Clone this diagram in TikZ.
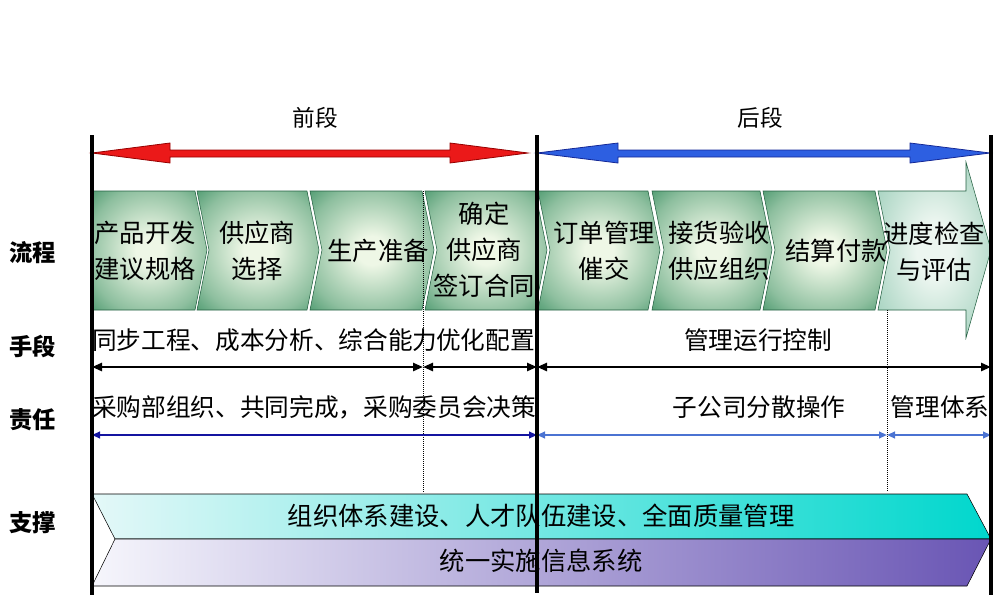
\documentclass[tikz,border=0pt]{standalone}
\usepackage{fontspec}
\setmainfont{Noto Sans CJK SC}
\usetikzlibrary{arrows.meta}

\definecolor{stagegreen}{RGB}{62,145,100}
\definecolor{stagepale}{RGB}{238,247,230}
\definecolor{stageline}{RGB}{35,95,65}
\definecolor{lastgreen}{RGB}{105,180,150}
\definecolor{lastpale}{RGB}{236,246,240}
\definecolor{redfill}{RGB}{235,25,25}
\definecolor{redline}{RGB}{150,0,0}
\definecolor{bluefill}{RGB}{45,95,225}
\definecolor{blueline}{RGB}{20,40,150}
\definecolor{tealdark}{RGB}{0,215,205}
\definecolor{tealpale}{RGB}{228,248,248}
\definecolor{purpledark}{RGB}{105,85,180}
\definecolor{purplepale}{RGB}{246,246,252}
\definecolor{navy}{RGB}{20,20,160}
\definecolor{lightblue}{RGB}{75,115,210}

\pgfdeclareradialshading{stagebevel}{\pgfpoint{0bp}{0bp}}{color(0bp)=(stagepale); color(6bp)=(stagepale); color(27bp)=(stagepale!45!stagegreen); color(39bp)=(stagegreen); color(50bp)=(stagegreen!85!black)}
\pgfdeclareradialshading{lastbevel}{\pgfpoint{0bp}{0bp}}{color(0bp)=(lastpale); color(8bp)=(lastpale); color(30bp)=(lastpale!50!lastgreen); color(40bp)=(lastgreen); color(50bp)=(lastgreen)}

\begin{document}
\begin{tikzpicture}[x=0.75pt, y=-0.75pt,
        stage/.style={draw=stageline, shade, shading=stagebevel},
        stagetext/.style={align=center, inner sep=0pt, font=\fontsize{19}{27}\selectfont},
        rowtext/.style={inner sep=0pt, font=\fontsize{18.5}{22}\selectfont},
        rowlabel/.style={inner sep=0pt, font=\fontsize{17.5}{20}\selectfont\bfseries},
        phase/.style={fill=#1fill, draw=#1line, line width=0.6pt},
        blackarrow/.style={<->, >={Triangle[length=7.5pt,width=6pt]}, line width=2pt},
        bluearrow/.style={<->, >={Triangle[length=6pt,width=5pt]}, draw=#1, line width=1.4pt},
        divider/.style={line width=3pt},
    ]
    \useasboundingbox (0,0) rectangle (1004,607);

    % phase arrows
    \draw[phase=red] (92,153) -- (170,143) -- (170,150) -- (450,150) -- (450,143) -- (528,153)
        -- (450,163) -- (450,157) -- (170,157) -- (170,163) -- cycle;
    \draw[phase=blue] (537,153) -- (618,143) -- (618,150) -- (910,150) -- (910,143) -- (990,153)
        -- (910,163) -- (910,157) -- (618,157) -- (618,163) -- cycle;
    \node[font=\fontsize{17}{20}\selectfont] (front) at (315,118) {前段};
    \node[font=\fontsize{17}{20}\selectfont] (back) at (760,118) {后段};

    % process chevrons
    \draw[stage] (92,191) -- (195,191) -- (207,250) -- (195,310) -- (92,310) -- cycle;
    \foreach \l/\r in {197/307, 310/422, 425/535, 538/648, 652/760, 763/875}
        \draw[stage] (\l,191) -- (\r,191) -- (\r+12,250) -- (\r,310) -- (\l,310) -- (\l+12,250) -- cycle;
    \draw[stage, shading=lastbevel]
        (878,191) -- (966,191) -- (966,162) -- (991,250) -- (966,338) -- (966,310) -- (878,310) -- (890,250) -- cycle;

    \node[stagetext] (s1) at (145,251) {产品开发\\建议规格};
    \node[stagetext] (s2) at (257,251) {供应商\\选择};
    \node[stagetext] (s3) at (378,251) {生产准备};
    \node[stagetext] (s4) at (484,250) {确定\\供应商\\签订合同};
    \node[stagetext] (s5) at (604,251) {订单管理\\催交};
    \node[stagetext] (s6) at (719,251) {接货验收\\供应组织};
    \node[stagetext] (s7) at (836,251) {结算付款};
    \node[stagetext] (s8) at (934,252) {进度检查\\与评估};

    % dotted dividers
    \draw[densely dotted, line width=0.5pt] (423,191) -- (423,492);
    \draw[densely dotted, line width=0.5pt] (887,310) -- (887,492);

    % means and responsibility rows
    \node[rowtext, anchor=west] (m1) at (92,340) {同步工程、成本分析、综合能力};
    \node[rowtext, anchor=east] (m2) at (535,340) {优化配置};
    \node[rowtext] (m3) at (758,340) {管理运行控制};
    \coordinate (h0) at (92,367);
    \coordinate (h1) at (423,367);
    \coordinate (h2) at (537,367);
    \coordinate (h3) at (991,367);
    \draw[blackarrow] (h0) -- (h1);
    \draw[blackarrow] (h1) -- (h2);
    \draw[blackarrow] (h2) -- (h3);

    \node[rowtext, anchor=west] (d1) at (92,407) {采购部组织、共同完成，采购委员会决策};
    \node[rowtext] (d2) at (759,407) {子公司分散操作};
    \node[rowtext] (d3) at (940,407) {管理体系};
    \coordinate (r0) at (92,435);
    \coordinate (r1) at (537,435);
    \coordinate (r2) at (887,435);
    \coordinate (r3) at (991,435);
    \draw[bluearrow=navy, line width=1.8pt] (r0) -- (r1);
    \draw[bluearrow=lightblue] (r1) -- (r2);
    \draw[bluearrow=lightblue] (r2) -- (r3);

    % support bands
    \draw[left color=tealpale, right color=tealdark] (92,494) -- (967,494) -- (991,539) -- (115,539) -- cycle;
    \draw[left color=purplepale, right color=purpledark] (115,539) -- (991,539) -- (967,586) -- (92,586) -- cycle;
    \node[rowtext, font=\fontsize{19}{22}\selectfont] (b1) at (541,516) {组织体系建设、人才队伍建设、全面质量管理};
    \node[rowtext, font=\fontsize{19}{22}\selectfont] (b2) at (541,561) {统一实施信息系统};

    % phase dividers
    \draw[divider] (92,135) -- (92,595);
    \draw[divider] (537,135) -- (537,593);
    \draw[divider] (991,135) -- (991,595);

    % row labels
    \node[rowlabel] (flow) at (33,253) {流程};
    \node[rowlabel] (means) at (33,347) {手段};
    \node[rowlabel] (duty) at (33,420) {责任};
    \node[rowlabel] (base) at (33,523) {支撑};
\end{tikzpicture}
\end{document}
